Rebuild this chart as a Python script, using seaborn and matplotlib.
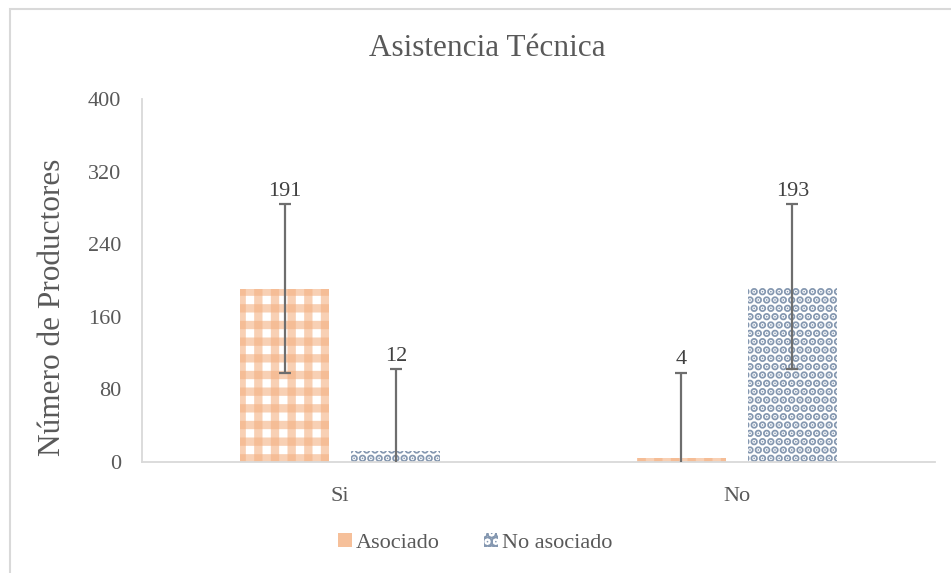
import numpy as np
import pandas as pd
import matplotlib
matplotlib.use("Agg")
import matplotlib.pyplot as plt
import seaborn as sns
from matplotlib.patches import Patch, Rectangle
from matplotlib.colors import to_rgba

# datos
categorias = ["Si", "No"]
series = ["Asociado", "No asociado"]
asociado = [191, 4]
no_asociado = [12, 193]
err_asociado = [93, 94]
err_no_asociado = [90, 91]

colores = {"Asociado": "#F4B183", "No asociado": "#8497B0"}
gris = "#595959"

df = pd.DataFrame({
    "cat": categorias * 2,
    "serie": [series[0]] * 2 + [series[1]] * 2,
    "valor": asociado + no_asociado,
    "err": err_asociado + err_no_asociado,
})

sns.set_style("white")
plt.rcParams["font.family"] = ["Liberation Serif", "DejaVu Serif"]
plt.rcParams["hatch.linewidth"] = 6

fig = plt.figure(figsize=(9.51, 5.73), dpi=100)
ax = fig.add_axes([142 / 951, 1 - 462 / 573, (935 - 142) / 951, (462 - 99) / 573])

sns.barplot(data=df, x="cat", y="valor", hue="serie", order=categorias,
            hue_order=series, palette=colores, width=0.56, gap=0.2,
            errorbar=None, legend=False, ax=ax)

naranja_t = to_rgba(colores["Asociado"], 0.6)

# tramas y barras de error
for cont, s in zip(ax.containers, series):
    sub = df[df.serie == s].set_index("cat").loc[categorias]
    xs = []
    for bar in cont:
        bar.set_facecolor("white")
        bar.set_linewidth(0)
        if s == "Asociado":
            # cuadros tipo "gingham": franjas horizontales + verticales
            bar.set_edgecolor(naranja_t)
            bar.set_hatch("-")
            ax.bar(bar.get_x(), bar.get_height(), width=bar.get_width(),
                   align="edge", facecolor="none", edgecolor=naranja_t,
                   hatch="|", linewidth=0, zorder=bar.get_zorder())
        else:
            bar.set_edgecolor(colores[s])
            bar.set_hatch("..")
            if hasattr(bar, "set_hatch_linewidth"):
                bar.set_hatch_linewidth(4)
        xs.append(bar.get_x() + bar.get_width() / 2)
    ax.errorbar(xs, sub["valor"], yerr=sub["err"], fmt="none",
                ecolor="#6E6E6E", elinewidth=1.6, capsize=4.5, capthick=1.6,
                zorder=5)
    for x, v, e in zip(xs, sub["valor"], sub["err"]):
        ax.text(x, v + e + 4, str(v), ha="center", va="bottom",
                fontsize=16, color="#404040")

ax.set_ylim(0, 400)
ax.set_xlim(-0.5, 1.5)
ax.set_yticks(np.arange(0, 401, 80))
ax.set_xticks([0, 1])
ax.set_xticklabels(categorias)
ax.set_xticks([-0.5, 0.5, 1.5], minor=True)
ax.tick_params(axis="x", which="major", length=0, labelsize=16, colors=gris, pad=18)
ax.tick_params(axis="x", which="minor", length=7, width=1.3, color="#D9D9D9")
ax.tick_params(axis="y", length=7, width=1.3, color="#D9D9D9", labelsize=16,
               labelcolor=gris, pad=8)
for sp in ["top", "right"]:
    ax.spines[sp].set_visible(False)
for sp in ["left", "bottom"]:
    ax.spines[sp].set_color("#D9D9D9")
    ax.spines[sp].set_linewidth(1.3)

ax.set_xlabel("")
ax.set_ylabel("Número de Productores", fontsize=22.5, color=gris)
ax.yaxis.set_label_coords(-0.095, 0.427)
fig.text(487 / 951, 1 - 48 / 573, "Asistencia Técnica",
         ha="center", va="center", fontsize=22.5, color=gris)

handles = [Patch(facecolor="#F6C09A", edgecolor="none", label=series[0]),
           Patch(facecolor="white", edgecolor=colores["No asociado"], hatch="..",
                 linewidth=0, label=series[1])]
fig.legend(handles=handles, loc="center", bbox_to_anchor=(0.5, 1 - 543 / 573),
           ncol=2, frameon=False, fontsize=16, handlelength=0.6,
           handleheight=0.6, handletextpad=0.2, columnspacing=2.0,
           labelcolor=gris)

# borde del grafico
fig.patches.append(Rectangle((9.5 / 951, -0.1), 1.1, 1.1 - 9.5 / 573,
                             transform=fig.transFigure, fill=False,
                             edgecolor="#D9D9D9", linewidth=1.5))

fig.savefig("out.png", dpi=100)
